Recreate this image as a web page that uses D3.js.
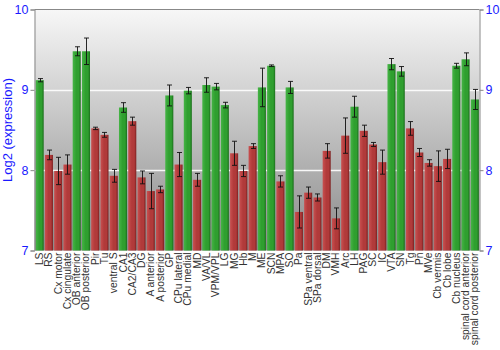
<!DOCTYPE html>
<html>
<head>
<meta charset="utf-8">
<script src="https://cdn.jsdelivr.net/npm/d3@7/dist/d3.min.js"></script>
<style>
  html, body { margin: 0; padding: 0; background: #fff; }
  svg { display: block; }
</style>
</head>
<body>
<svg id="chart" width="500" height="350"></svg>
<script>
// Brain regions and their log2 expression (mean ± error)
const regions = ["LS","RS","Cx motor","Cx cingulate","OB anterior","OB posterior","Pir","Tu","ventral S","CA1","CA2/CA3","DG","A anterior","A posterior","GP","CPu lateral","CPu medial","MD","VA/VL","VPM/VPL","LG","MG","Hb","M","ME","SCN","MPA","SO","Pa","SPa ventral","SPa dorsal","DM","VMH","Arc","LH","PAG","SC","IC","VTA","SN","Tg","Pn","MVe","Cb vermis","Cb lobe","Cb nucleus","spinal cord anterior","spinal cord posterior"];
const values = [9.12,8.19,7.99,8.07,9.48,9.48,8.52,8.44,7.93,8.78,8.61,7.91,7.74,7.76,8.93,8.07,8.99,7.88,9.06,9.04,8.81,8.21,7.99,8.30,9.03,9.30,7.86,9.03,7.48,7.72,7.66,8.24,7.40,8.43,8.79,8.49,8.32,8.10,9.32,9.23,8.52,8.22,8.09,8.05,8.14,9.30,9.38,8.88];
const errors = [0.02,0.06,0.17,0.12,0.056,0.165,0.015,0.03,0.08,0.06,0.05,0.08,0.22,0.04,0.13,0.15,0.04,0.08,0.09,0.04,0.035,0.15,0.07,0.03,0.24,0.01,0.07,0.075,0.2,0.07,0.044,0.09,0.13,0.22,0.13,0.07,0.025,0.15,0.07,0.06,0.085,0.05,0.04,0.19,0.12,0.03,0.08,0.125];
// 1 = highlighted (green), 0 = other (red)
const highlight = [1,0,0,0,1,1,0,0,0,1,0,0,0,0,1,0,1,0,1,1,1,0,0,0,1,1,0,1,0,0,0,0,0,0,1,0,0,0,1,1,0,0,0,0,0,1,1,1];
const yTicks = [7, 8, 9, 10];

const svg = d3.select("#chart");
const plotL = 34.5, plotR = 479.5, plotT = 9.5, plotB = 250.5;

const x = d3.scaleBand().domain(regions).range([plotL + 0.5, plotR]).paddingInner(0.13).paddingOuter(0.07);
const y = d3.scaleLinear().domain([7, 10]).range([plotB, plotT]);

const defs = svg.append("defs");
const bg = defs.append("linearGradient").attr("id", "bg").attr("x1", 0).attr("y1", 0).attr("x2", 0).attr("y2", 1);
bg.append("stop").attr("offset", "0%").attr("stop-color", "#f7f7f7");
bg.append("stop").attr("offset", "100%").attr("stop-color", "#8a8a8a");

function barGrad(id, c1, c2, c3) {
  const g = defs.append("linearGradient").attr("id", id).attr("x1", 0).attr("y1", 0).attr("x2", 1).attr("y2", 0);
  g.append("stop").attr("offset", "0%").attr("stop-color", c1);
  g.append("stop").attr("offset", "45%").attr("stop-color", c2);
  g.append("stop").attr("offset", "75%").attr("stop-color", c2);
  g.append("stop").attr("offset", "100%").attr("stop-color", c3);
}
barGrad("gGreen", "#46b446", "#2f9f2f", "#1c6e1c");
barGrad("gRed", "#c95050", "#b13a3a", "#7c2020");

// plot background
svg.append("rect").attr("x", plotL).attr("y", plotT).attr("width", plotR - plotL).attr("height", plotB - plotT)
  .attr("fill", "url(#bg)");

// gridlines
svg.append("g").selectAll("line").data(yTicks.filter(d => d > 7 && d < 10)).join("line")
  .attr("x1", plotL).attr("x2", plotR)
  .attr("y1", d => Math.round(y(d)) + 0.5).attr("y2", d => Math.round(y(d)) + 0.5)
  .attr("stroke", "#ffffff").attr("stroke-width", 1.5).attr("opacity", 0.9);

// bars
svg.append("g").selectAll("rect").data(regions).join("rect")
  .attr("x", d => x(d))
  .attr("width", x.bandwidth())
  .attr("y", (d, i) => y(values[i]))
  .attr("height", (d, i) => y(7) - y(values[i]))
  .attr("fill", (d, i) => highlight[i] ? "url(#gGreen)" : "url(#gRed)");

// error bars
const eb = svg.append("g").attr("stroke", "#111").attr("stroke-width", 1).attr("stroke-opacity", 0.9);
regions.forEach((d, i) => {
  const cx = Math.round(x(d) + x.bandwidth() / 2) + 0.5;
  const y1 = y(values[i] + errors[i]), y2 = y(values[i] - errors[i]);
  eb.append("line").attr("x1", cx).attr("x2", cx).attr("y1", y1).attr("y2", y2);
  eb.append("line").attr("x1", cx - 2.5).attr("x2", cx + 2.5).attr("y1", y1).attr("y2", y1);
  eb.append("line").attr("x1", cx - 2.5).attr("x2", cx + 2.5).attr("y1", y2).attr("y2", y2);
});

// frame
svg.append("line").attr("x1", plotL).attr("x2", plotR).attr("y1", plotT).attr("y2", plotT).attr("stroke", "#888");

// axes
const yl = svg.append("g").attr("transform", `translate(${plotL},0)`)
  .call(d3.axisLeft(y).tickValues(yTicks).tickSize(4).tickPadding(2).tickFormat(d3.format("d")));
const yr = svg.append("g").attr("transform", `translate(${plotR},0)`)
  .call(d3.axisRight(y).tickValues(yTicks).tickSize(4).tickPadding(2).tickFormat(d3.format("d")));
[yl, yr].forEach(g => {
  g.select(".domain").attr("stroke", "#888");
  g.selectAll(".tick line").attr("stroke", "#888");
  g.selectAll(".tick text").attr("fill", "#1a1aff").attr("font-family", "Liberation Sans, Arial, sans-serif").attr("font-size", 12.5);
});

// x labels
svg.append("g").selectAll("text").data(regions).join("text")
  .attr("transform", d => `translate(${x(d) + x.bandwidth() / 2 + 3.5},${plotB + 2}) rotate(-90)`)
  .attr("text-anchor", "end")
  .attr("font-family", "Liberation Sans, Arial, sans-serif")
  .attr("font-size", 10.3)
  .attr("fill", "#333")
  .text(d => d);

// y title
svg.append("text")
  .attr("transform", `translate(12,${(plotT + plotB) / 2}) rotate(-90)`)
  .attr("text-anchor", "middle")
  .attr("font-family", "Liberation Sans, Arial, sans-serif")
  .attr("font-size", 13)
  .attr("fill", "#1a1aff")
  .text("Log2 (expression)");
</script>
</body>
</html>
